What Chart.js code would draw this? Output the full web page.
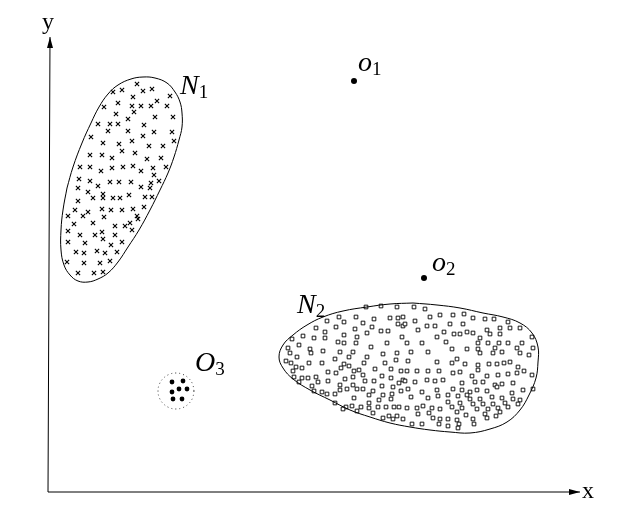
<!DOCTYPE html>
<html><head><meta charset="utf-8">
<script src="https://cdn.jsdelivr.net/npm/chart.js@4"></script>
<style>html,body{margin:0;padding:0;background:#fff;}canvas{display:block;}</style>
</head><body>
<canvas id="c" width="628" height="515"></canvas>
<script>
// ---- Data (arbitrary units, origin at the axes' corner) ----
const xAxisLine = [[0,0],[532,0]];
const yAxisLine = [[0,0],[2,455]];

const n1Points = [[89,408],[95,401],[104,403],[65,400],[74,402],[122,396],[85,395],[70,389],[109,391],[56,385],[84,386],[93,386],[103,386],[119,386],[68,378],[86,380],[107,375],[125,375],[80,373],[50,368],[62,368],[70,368],[96,367],[60,361],[80,361],[106,360],[124,360],[43,355],[95,356],[126,351],[55,349],[71,348],[84,351],[101,346],[115,346],[74,341],[87,339],[42,337],[54,337],[64,334],[99,333],[113,334],[32,325],[42,325],[64,324],[75,325],[85,326],[105,324],[118,325],[53,321],[93,321],[106,317],[31,313],[42,311],[62,310],[71,310],[83,310],[103,309],[111,311],[30,304],[50,306],[93,305],[40,300],[55,298],[81,297],[72,294],[102,304],[30,291],[45,294],[55,294],[65,294],[97,295],[104,295],[27,282],[40,280],[54,283],[63,282],[74,282],[85,283],[96,285],[20,276],[35,276],[56,275],[89,276],[90,273],[26,268],[45,269],[67,266],[77,266],[82,269],[84,262],[20,261],[54,260],[67,257],[32,257],[47,257],[20,250],[37,249],[55,253],[74,250],[63,247],[28,240],[36,239],[49,241],[57,239],[69,240],[19,230],[62,231],[36,229],[52,229],[30,219],[46,219],[55,220]];
const n1Outline = [[19,304],[25,325],[34,349],[43,369],[51,385],[60,398],[70,407],[83,413],[95,415],[107,414],[119,409],[127,400],[132,390],[134,379],[134,365],[131,352],[126,335],[120,319],[112,302],[102,282],[91,262],[80,245],[70,230],[60,219],[50,213],[40,210],[30,211],[22,217],[16,227],[13,242],[13,262],[15,282],[19,304]];

const n2Points = [[318,185],[333,186],[349,185],[291,175],[308,175],[326,173],[342,174],[350,174],[355,175],[279,171],[296,170],[315,169],[350,168],[355,166],[268,164],[288,165],[307,163],[324,165],[333,161],[340,161],[277,160],[319,159],[255,156],[296,157],[354,155],[244,153],[266,154],[277,154],[309,155],[290,150],[296,149],[308,149],[323,145],[339,149],[240,144],[251,147],[262,143],[275,141],[292,140],[305,140],[335,138],[349,139],[242,139],[263,139],[319,135],[348,132],[249,135],[287,133],[301,135],[337,129],[238,131],[243,129],[261,129],[274,129],[296,128],[301,126],[316,129],[248,125],[293,124],[327,123],[343,123],[353,121],[245,121],[254,124],[280,120],[288,119],[306,121],[311,122],[334,116],[246,115],[254,114],[260,114],[268,115],[297,113],[305,115],[315,117],[343,114],[355,112],[251,110],[270,110],[280,111],[317,111],[326,111],[351,109],[264,106],[292,107],[305,107],[334,106],[345,105],[266,101],[274,100],[292,102],[299,103],[309,103],[315,103],[325,101],[353,101],[279,98],[287,98],[321,97],[335,97],[344,98],[306,94],[331,92],[343,93],[287,89],[304,86],[321,89],[298,85],[313,85],[321,84],[330,85],[338,85],[346,85],[351,85],[295,83],[309,81],[325,79],[341,76],[349,76],[335,74],[345,73],[355,73],
[366,185],[377,183],[382,175],[392,177],[405,177],[416,178],[425,174],[437,173],[446,173],[460,170],[357,168],[367,171],[379,166],[387,166],[402,168],[415,168],[370,162],[396,160],[406,158],[419,160],[425,159],[439,162],[452,164],[462,164],[472,164],[412,158],[442,158],[452,158],[389,155],[432,154],[484,155],[359,149],[374,149],[398,150],[430,149],[440,149],[451,149],[460,149],[474,149],[404,143],[419,143],[430,143],[447,144],[469,144],[485,144],[363,140],[380,140],[432,139],[445,139],[454,140],[472,139],[481,137],[360,131],[389,130],[409,133],[404,129],[417,128],[430,127],[441,128],[449,128],[456,129],[462,130],[470,125],[359,121],[369,121],[380,121],[391,121],[405,119],[412,120],[430,122],[424,116],[439,116],[450,117],[460,118],[469,119],[476,121],[484,117],[357,111],[367,110],[379,112],[387,111],[395,112],[414,109],[427,110],[435,110],[447,107],[454,108],[465,109],[360,103],[374,100],[389,102],[405,103],[414,102],[422,100],[429,102],[439,101],[449,105],[464,99],[475,102],[485,103],[363,95],[380,94],[390,96],[400,97],[410,96],[419,97],[422,93],[432,93],[444,95],[454,94],[465,93],[472,92],[400,90],[412,89],[425,88],[435,88],[445,88],[457,89],[470,88],[359,84],[369,84],[375,86],[384,84],[392,83],[404,85],[414,84],[429,83],[440,83],[450,84],[460,85],[370,78],[381,79],[409,80],[418,77],[437,78],[448,76],[452,80],[385,74],[392,73],[400,73],[409,72],[425,73],[439,74],[364,68],[374,68],[391,68],[400,66],[411,68],[426,68],[410,64]];
const n2Outline = [[365,189],[389,187],[412,184],[435,179],[455,175],[472,169],[484,159],[490,145],[490,130],[488,114],[481,97],[472,82],[459,70],[442,63],[422,59],[402,60],[382,62],[362,65],[342,69],[322,75],[302,82],[282,92],[262,102],[245,113],[235,124],[231,135],[235,147],[245,157],[259,167],[275,175],[295,181],[319,185],[342,188],[365,189]];

const o3Points = [[124,110],[135,111],[131,103],[139,103],[124,100],[125,93],[134,93]];
const o3Ring = [[146,101],[144.6,107.9],[140.7,113.7],[134.9,117.6],[128,119],[121.1,117.6],[115.3,113.7],[111.4,107.9],[110,101],[111.4,94.1],[115.3,88.3],[121.1,84.4],[128,83],[134.9,84.4],[140.7,88.3],[144.6,94.1],[146,101]];

const outlierPoints = [[306,411],[376,214]];

const labelMain = ['N','N','O','o','o'];
const labelSub  = ['1','2','3','1','2'];
const labelX = [132,249,147,310,384];
const labelY = [398,179,121,421,221];

const axisTitles = ['x','y'];
const axisTitleX = [534,-6];
const axisTitleY = [-6,463];

// ---- Rendering ----
const toXY = a => a.map(p => ({x:p[0], y:p[1]}));

function arrowHead(){
  const c = document.createElement('canvas');
  c.width = 24; c.height = 8;
  const g = c.getContext('2d');
  g.fillStyle = '#000';
  g.beginPath(); g.moveTo(12,4); g.lineTo(1,1); g.lineTo(1,7); g.closePath(); g.fill();
  return c;
}
const arrow = arrowHead();

const labelPlugin = {
  id: 'diagramLabels',
  afterDatasetsDraw(chart){
    const c = chart.ctx, xs = chart.scales.x, ys = chart.scales.y;
    c.save();
    c.fillStyle = '#000';
    c.textBaseline = 'alphabetic';
    c.textAlign = 'left';
    for (let i = 0; i < labelMain.length; i++){
      const px = xs.getPixelForValue(labelX[i]);
      const py = ys.getPixelForValue(labelY[i]);
      c.font = 'italic 28px "Liberation Serif"';
      c.fillText(labelMain[i], px, py);
      const w = c.measureText(labelMain[i]).width;
      c.font = '19px "Liberation Serif"';
      c.fillText(labelSub[i], px + w, py + 4);
    }
    c.font = '24px "Liberation Serif"';
    for (let i = 0; i < axisTitles.length; i++){
      c.fillText(axisTitles[i], xs.getPixelForValue(axisTitleX[i]), ys.getPixelForValue(axisTitleY[i]));
    }
    c.restore();
  }
};

const lineBase = {showLine:true, borderColor:'#000', borderWidth:1, pointRadius:0, fill:false};

new Chart(document.getElementById('c'), {
  type: 'scatter',
  data: { datasets: [
    Object.assign({}, lineBase, {data: toXY(xAxisLine), pointRadius:[0,6], pointStyle:arrow, pointRotation:0, tension:0}),
    Object.assign({}, lineBase, {data: toXY(yAxisLine), pointRadius:[0,6], pointStyle:arrow, pointRotation:-90, tension:0}),
    Object.assign({}, lineBase, {data: toXY(n1Outline), tension:0.4}),
    Object.assign({}, lineBase, {data: toXY(n2Outline), tension:0.4}),
    Object.assign({}, lineBase, {data: toXY(o3Ring), tension:0.4, borderColor:'#444', borderDash:[1,3]}),
    {data: toXY(n1Points), pointStyle:'crossRot', pointRadius:3, borderColor:'#000', borderWidth:1.1, backgroundColor:'#000'},
    {data: toXY(n2Points), pointStyle:'rect', pointRadius:2.6, borderColor:'#000', borderWidth:0.9, backgroundColor:'#fff'},
    {data: toXY(o3Points), pointStyle:'circle', pointRadius:2.4, borderWidth:0, backgroundColor:'#000'},
    {data: toXY(outlierPoints), pointStyle:'circle', pointRadius:3, borderWidth:0, backgroundColor:'#000'}
  ]},
  options: {
    responsive:false, animation:false, devicePixelRatio:1, events:[],
    layout:{padding:0, autoPadding:false},
    plugins:{legend:{display:false}, tooltip:{enabled:false}},
    scales:{
      x:{type:'linear', min:-48, max:580, display:false},
      y:{type:'linear', min:-23, max:492, display:false}
    }
  },
  plugins:[labelPlugin]
});
</script>
</body></html>
